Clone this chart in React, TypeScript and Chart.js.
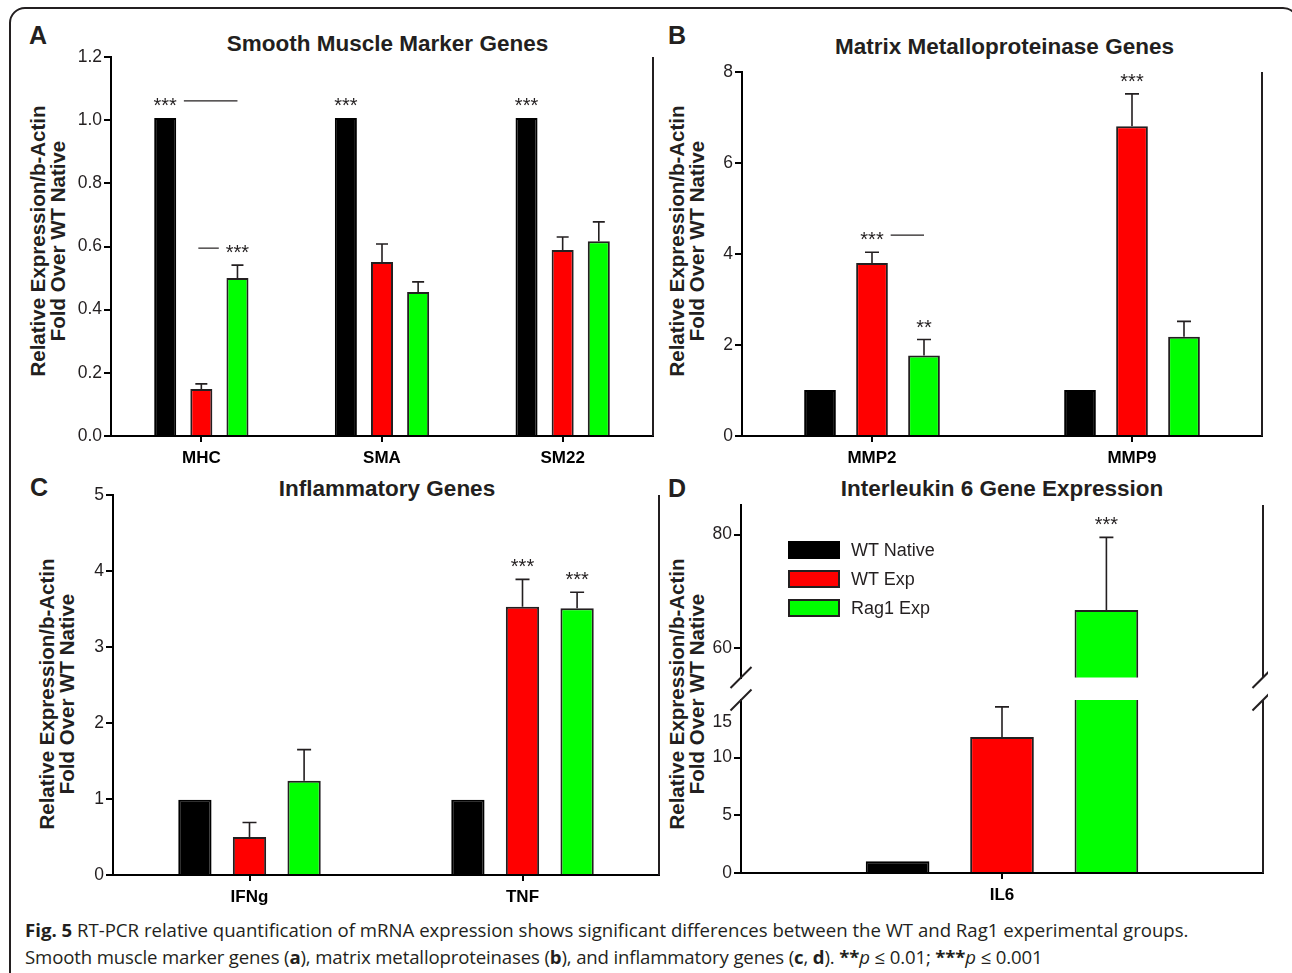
import React, { useEffect, useRef } from 'react';
import { Chart, registerables } from 'chart.js';

Chart.register(...registerables);

// ---------- data ----------
const SERIES = ['WT Native', 'WT Exp', 'Rag1 Exp'];
const FILLS = ['#000000', '#ff0000', '#00ff00'];

// Panel A: smooth muscle marker genes
const smCategories = ['MHC', 'SMA', 'SM22'];
const smWTNative = [1.007, 1.007, 1.007];
const smWTExp = [0.149, 0.551, 0.589];
const smRag1Exp = [0.5, 0.456, 0.617];
const smWTNativeErr = [0, 0, 0];
const smWTExpErr = [0.016, 0.057, 0.041];
const smRag1ExpErr = [0.041, 0.032, 0.061];
const smTicks = [0, 0.2, 0.4, 0.6, 0.8, 1.0, 1.2];

// Panel B: matrix metalloproteinase genes
const mmpCategories = ['MMP2', 'MMP9'];
const mmpWTNative = [1.01, 1.01];
const mmpWTExp = [3.8, 6.81];
const mmpRag1Exp = [1.77, 2.18];
const mmpWTNativeErr = [0, 0];
const mmpWTExpErr = [0.24, 0.71];
const mmpRag1ExpErr = [0.35, 0.34];
const mmpTicks = [0, 2, 4, 6, 8];

// Panel C: inflammatory genes
const infCategories = ['IFNg', 'TNF'];
const infWTNative = [0.99, 0.99];
const infWTExp = [0.5, 3.53];
const infRag1Exp = [1.24, 3.51];
const infWTNativeErr = [0, 0];
const infWTExpErr = [0.19, 0.36];
const infRag1ExpErr = [0.41, 0.21];
const infTicks = [0, 1, 2, 3, 4, 5];

// Panel D: interleukin 6 (broken axis)
const il6Categories = ['IL6'];
const il6WTNative = [1.02];
const il6WTExp = [11.8];
const il6Rag1Exp = [66.7];
const il6WTNativeErr = [0];
const il6WTExpErr = [2.6];
const il6Rag1ExpErr = [12.8];
const il6LowTicks = [0, 5, 10];
const il6LowRange: [number, number] = [0, 15];
const il6HighTicks = [60, 80];
const il6HighRange: [number, number] = [54.8, 85.2];
const il6BreakLabel = 15;

type Sig = { cat: number; series: number; text: string; lineTo?: number };
const smSig: Sig[] = [
  { cat: 0, series: 0, text: '***', lineTo: 2 },
  { cat: 0, series: 2, text: '***', lineTo: 1 },
  { cat: 1, series: 0, text: '***' },
  { cat: 2, series: 0, text: '***' },
];
const mmpSig: Sig[] = [
  { cat: 0, series: 1, text: '***', lineTo: 2 },
  { cat: 0, series: 2, text: '**' },
  { cat: 1, series: 1, text: '***' },
];
const infSig: Sig[] = [
  { cat: 1, series: 1, text: '***' },
  { cat: 1, series: 2, text: '***' },
];
const il6Sig: Sig[] = [{ cat: 0, series: 2, text: '***' }];

// ---------- styling ----------
const INK = '#231f20';
const FONT = '"Liberation Sans", Arial, sans-serif';
const TICK_FONT = { family: FONT, size: 17.5 };
const CAT_FONT = { family: FONT, size: 17, weight: 'bold' as const };
const STAR_FONT = `20px ${FONT}`;

type Spec = {
  categories: string[];
  values: number[][];
  errors: number[][];
  sig: Sig[];
  range: [number, number];
  ticks: number[];
  fmt: (v: number) => string;
  showX: boolean;
  padding: { top: number; right: number; bottom: number; left: number };
  yAxisW: number;
  xAxisH: number;
  capW: number;
  breakTop?: boolean;
  breakBottom?: boolean;
  floatLabel?: number;
};

function decorPlugin(p: Spec) {
  return {
    id: 'decor',
    afterDatasetsDraw(chart: any) {
      const { ctx, chartArea: a } = chart;
      const y = chart.scales.y;
      const inRange = (v: number) => v >= y.min && v <= y.max;
      ctx.save();
      ctx.strokeStyle = INK;
      ctx.fillStyle = INK;
      // right frame line
      ctx.lineWidth = 2;
      ctx.beginPath();
      ctx.moveTo(a.right, a.top);
      ctx.lineTo(a.right, a.bottom);
      ctx.stroke();
      // error bars (upper only)
      ctx.lineWidth = 1.6;
      p.values.forEach((vals, si) => {
        const meta = chart.getDatasetMeta(si);
        vals.forEach((v, ci) => {
          const e = p.errors[si][ci];
          if (!e || !inRange(v)) return;
          const x = meta.data[ci].x;
          const y0 = y.getPixelForValue(v);
          const y1 = y.getPixelForValue(v + e);
          ctx.beginPath();
          ctx.moveTo(x, y0);
          ctx.lineTo(x, y1);
          ctx.moveTo(x - p.capW / 2, y1);
          ctx.lineTo(x + p.capW / 2, y1);
          ctx.stroke();
        });
      });
      // significance marks
      ctx.font = STAR_FONT;
      ctx.textAlign = 'center';
      ctx.textBaseline = 'alphabetic';
      p.sig.forEach((s) => {
        const v = p.values[s.series][s.cat];
        if (!inRange(v)) return;
        const e = p.errors[s.series][s.cat];
        const x = chart.getDatasetMeta(s.series).data[s.cat].x;
        const top = y.getPixelForValue(v + e);
        const base = top - 6;
        ctx.fillText(s.text, x, base);
        if (s.lineTo !== undefined) {
          const tx = chart.getDatasetMeta(s.lineTo).data[s.cat].x;
          const w = ctx.measureText(s.text).width;
          const ly = base - 11;
          ctx.lineWidth = 1.2;
          ctx.beginPath();
          if (tx > x) {
            ctx.moveTo(x + w / 2 + 7, ly);
            ctx.lineTo(tx, ly);
          } else {
            ctx.moveTo(tx - 3, ly);
            ctx.lineTo(x - w / 2 - 7, ly);
          }
          ctx.stroke();
        }
      });
      // axis break marks
      const slash = (cx: number, cy: number) => {
        ctx.beginPath();
        ctx.moveTo(cx - 10.5, cy + 10.5);
        ctx.lineTo(cx + 10.5, cy - 10.5);
        ctx.stroke();
      };
      ctx.lineWidth = 2;
      if (p.breakBottom) {
        slash(a.left, a.bottom);
        slash(a.right, a.bottom);
      }
      if (p.breakTop) {
        slash(a.left, a.top);
        slash(a.right, a.top);
      }
      if (p.floatLabel !== undefined) {
        ctx.font = `${TICK_FONT.size}px ${FONT}`;
        ctx.textAlign = 'right';
        ctx.textBaseline = 'middle';
        ctx.fillText(String(p.floatLabel), a.left - 9, y.getPixelForValue(p.floatLabel) + 22);
      }
      ctx.restore();
    },
  };
}

function makeConfig(p: Spec): any {
  return {
    type: 'bar',
    data: {
      labels: p.categories,
      datasets: p.values.map((vals, i) => ({
        label: SERIES[i],
        data: vals,
        backgroundColor: FILLS[i],
        borderColor: i === 0 ? '#000000' : INK,
        borderWidth: 2,
        borderSkipped: 'start',
        categoryPercentage: 0.6,
        barPercentage: 0.61,
        clip: 0,
      })),
    },
    options: {
      responsive: false,
      animation: false,
      events: [],
      layout: { padding: p.padding },
      plugins: {
        legend: { display: false },
        title: { display: false },
        tooltip: { enabled: false },
      },
      scales: {
        x: {
          display: p.showX,
          grid: { offset: false, drawOnChartArea: false, tickLength: 6, color: '#000', lineWidth: 2 },
          border: { color: '#000', width: 2 },
          ticks: { font: CAT_FONT, color: '#000', padding: 6 },
          afterFit: (s: any) => {
            s.height = p.xAxisH;
          },
        },
        y: {
          min: p.range[0],
          max: p.range[1],
          afterBuildTicks: (s: any) => {
            s.ticks = p.ticks.map((v) => ({ value: v }));
          },
          ticks: {
            font: TICK_FONT,
            color: INK,
            padding: 2,
            callback: (v: any) => p.fmt(Number(v)),
          },
          grid: { drawOnChartArea: false, tickLength: 7, color: '#000', lineWidth: 2 },
          border: { color: '#000', width: 2 },
          afterFit: (s: any) => {
            s.width = p.yAxisW;
          },
        },
      },
    },
    plugins: [decorPlugin(p)],
  };
}

function ChartBox({ spec, left, top, width, height }: { spec: Spec; left: number; top: number; width: number; height: number }) {
  const ref = useRef<HTMLCanvasElement>(null);
  useEffect(() => {
    const chart = new Chart(ref.current as HTMLCanvasElement, makeConfig(spec));
    return () => chart.destroy();
  }, []);
  return (
    <canvas
      ref={ref}
      width={width}
      height={height}
      style={{ position: 'absolute', left, top, width, height }}
    />
  );
}

const f1 = (v: number) => v.toFixed(1);
const f0 = (v: number) => String(v);

const specA: Spec = {
  categories: smCategories,
  values: [smWTNative, smWTExp, smRag1Exp],
  errors: [smWTNativeErr, smWTExpErr, smRag1ExpErr],
  sig: smSig,
  range: [0, 1.2],
  ticks: smTicks,
  fmt: f1,
  showX: true,
  padding: { top: 15, right: 5, bottom: 0, left: 0 },
  yAxisW: 51,
  xAxisH: 35,
  capW: 12,
};
const specB: Spec = {
  categories: mmpCategories,
  values: [mmpWTNative, mmpWTExp, mmpRag1Exp],
  errors: [mmpWTNativeErr, mmpWTExpErr, mmpRag1ExpErr],
  sig: mmpSig,
  range: [0, 8],
  ticks: mmpTicks,
  fmt: f0,
  showX: true,
  padding: { top: 15, right: 5, bottom: 0, left: 0 },
  yAxisW: 40,
  xAxisH: 35,
  capW: 14,
};
const specC: Spec = {
  categories: infCategories,
  values: [infWTNative, infWTExp, infRag1Exp],
  errors: [infWTNativeErr, infWTExpErr, infRag1ExpErr],
  sig: infSig,
  range: [0, 5],
  ticks: infTicks,
  fmt: f0,
  showX: true,
  padding: { top: 15, right: 5, bottom: 0, left: 0 },
  yAxisW: 50,
  xAxisH: 35,
  capW: 14,
};
const specDLow: Spec = {
  categories: il6Categories,
  values: [il6WTNative, il6WTExp, il6Rag1Exp],
  errors: [il6WTNativeErr, il6WTExpErr, il6Rag1ExpErr],
  sig: il6Sig,
  range: il6LowRange,
  ticks: il6LowTicks,
  fmt: f0,
  showX: true,
  padding: { top: 15, right: 5, bottom: 0, left: 0 },
  yAxisW: 50,
  xAxisH: 35,
  capW: 14,
  breakTop: true,
  floatLabel: il6BreakLabel,
};
const specDHigh: Spec = {
  categories: il6Categories,
  values: [il6WTNative, il6WTExp, il6Rag1Exp],
  errors: [il6WTNativeErr, il6WTExpErr, il6Rag1ExpErr],
  sig: il6Sig,
  range: il6HighRange,
  ticks: il6HighTicks,
  fmt: f0,
  showX: false,
  padding: { top: 15, right: 5, bottom: 10, left: 0 },
  yAxisW: 50,
  xAxisH: 0,
  capW: 14,
  breakBottom: true,
};

function YTitle({ cx, cy }: { cx: number; cy: number }) {
  const W = 320;
  const H = 40;
  return (
    <div
      style={{
        position: 'absolute',
        left: cx - W / 2,
        top: cy - H / 2,
        width: W,
        height: H,
        transform: 'rotate(-90deg)',
        textAlign: 'center',
        fontFamily: FONT,
        fontWeight: 'bold',
        fontSize: 20.5,
        lineHeight: '19.5px',
        color: INK,
        whiteSpace: 'nowrap',
      }}
    >
      <div>Relative Expression/b-Actin</div>
      <div>Fold Over WT Native</div>
    </div>
  );
}

function Label({ text, cx, cy, size, bold = true }: { text: string; cx: number; cy: number; size: number; bold?: boolean }) {
  return (
    <div
      style={{
        position: 'absolute',
        left: cx - 300,
        top: cy - size * 0.6,
        width: 600,
        textAlign: 'center',
        fontFamily: FONT,
        fontWeight: bold ? 'bold' : 'normal',
        fontSize: size,
        lineHeight: `${size * 1.2}px`,
        color: INK,
        whiteSpace: 'nowrap',
      }}
    >
      {text}
    </div>
  );
}

function Letter({ text, x, cy }: { text: string; x: number; cy: number }) {
  return (
    <div
      style={{
        position: 'absolute',
        left: x,
        top: cy - 15,
        fontFamily: FONT,
        fontWeight: 'bold',
        fontSize: 25,
        lineHeight: '30px',
        color: INK,
      }}
    >
      {text}
    </div>
  );
}

function Legend() {
  return (
    <div style={{ position: 'absolute', left: 788, top: 541 }}>
      {SERIES.map((s, i) => (
        <div key={s} style={{ position: 'relative', height: 29 }}>
          <div
            style={{
              position: 'absolute',
              left: 0,
              top: 0,
              width: 52,
              height: 18,
              boxSizing: 'border-box',
              background: FILLS[i],
              border: `2px solid ${i === 0 ? '#000' : INK}`,
            }}
          />
          <div
            style={{
              position: 'absolute',
              left: 63,
              top: -2,
              fontFamily: FONT,
              fontSize: 18,
              lineHeight: '22px',
              color: INK,
              whiteSpace: 'nowrap',
            }}
          >
            {s}
          </div>
        </div>
      ))}
    </div>
  );
}

export default function App() {
  return (
    <div
      style={{
        position: 'absolute',
        left: 0,
        top: 0,
        width: 1292,
        height: 973,
        overflow: 'hidden',
        background: '#ffffff',
      }}
    >
      <div
        style={{
          position: 'absolute',
          left: 9,
          top: 7,
          width: 1290,
          height: 1010,
          boxSizing: 'border-box',
          border: `2px solid ${INK}`,
          borderRadius: 16,
        }}
      />
      <Letter text="A" x={29} cy={35} />
      <Letter text="B" x={668} cy={35} />
      <Letter text="C" x={30} cy={487} />
      <Letter text="D" x={668} cy={488} />

      <Label text="Smooth Muscle Marker Genes" cx={387.5} cy={43} size={22.5} />
      <Label text="Matrix Metalloproteinase Genes" cx={1004.5} cy={46} size={22.5} />
      <Label text="Inflammatory Genes" cx={387} cy={488} size={22.5} />
      <Label text="Interleukin 6 Gene Expression" cx={1002} cy={488} size={22.5} />

      <YTitle cx={47.5} cy={241} />
      <YTitle cx={687} cy={241} />
      <YTitle cx={57} cy={694} />
      <YTitle cx={687} cy={694} />

      <ChartBox spec={specA} left={60} top={42} width={598} height={429} />
      <ChartBox spec={specB} left={702} top={57} width={565} height={414} />
      <ChartBox spec={specC} left={63} top={480} width={601} height={430} />
      <ChartBox spec={specDHigh} left={691} top={490} width={577} height={200} />
      <ChartBox spec={specDLow} left={691} top={685} width={577} height={223} />

      <Legend />

      <div
        style={{
          position: 'absolute',
          left: 25,
          top: 916,
          fontFamily: '"Open Sans", "Noto Sans", sans-serif',
          fontSize: 18.6,
          lineHeight: '27px',
          color: INK,
          whiteSpace: 'nowrap',
        }}
      >
        <div>
          <b>Fig. 5</b> RT-PCR relative quantification of mRNA expression shows significant differences between the WT and Rag1 experimental groups.
        </div>
        <div style={{ letterSpacing: '-0.14px' }}>
          Smooth muscle marker genes (<b>a</b>), matrix metalloproteinases (<b>b</b>), and inflammatory genes (<b>c</b>, <b>d</b>).{' '}
          <b>**</b>
          <i>p</i> ≤ 0.01; <b>***</b>
          <i>p</i> ≤ 0.001
        </div>
      </div>
    </div>
  );
}
